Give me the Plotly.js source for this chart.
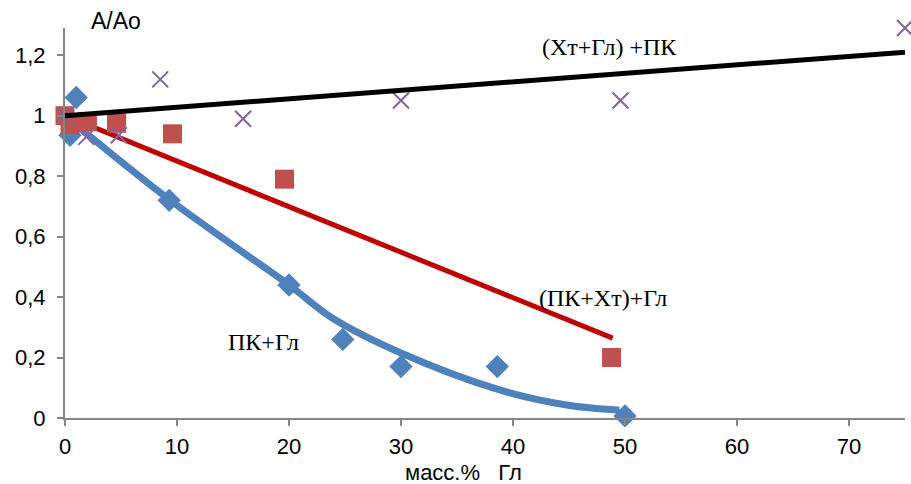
<!DOCTYPE html>
<html>
<head>
<meta charset="utf-8">
<script src="https://cdn.plot.ly/plotly-3.0.1.min.js"></script>
<style>html,body{margin:0;padding:0;background:#fff;}#chart{width:911px;height:484px;}</style>
</head>
<body>
<div id="chart"></div>
<script>
// ПК+Гл (blue diamonds)
const pkGlX = [0.45, 1.0, 9.3, 20, 24.8, 30, 38.6, 50];
const pkGlY = [0.935, 1.06, 0.72, 0.44, 0.26, 0.17, 0.17, 0.007];
// ПК+Гл trend curve
const pkGlTrendX = [0, 9.4, 20, 23.9, 30, 38.8, 44.8, 49.5];
const pkGlTrendY = [1.0, 0.72, 0.44, 0.33, 0.215, 0.093, 0.043, 0.026];
// (ПК+Хт)+Гл (red squares)
const pkXtX = [0, 0.45, 2, 4.6, 9.6, 19.6, 48.8];
const pkXtY = [1.0, 0.97, 0.98, 0.975, 0.94, 0.79, 0.2];
const pkXtTrendX = [0, 48.9];
const pkXtTrendY = [1.0, 0.264];
// (Хт+Гл)+ПК (purple crosses)
const xtGlX = [0, 1.9, 4.8, 8.5, 15.9, 30, 49.6, 75];
const xtGlY = [1.0, 0.93, 0.935, 1.12, 0.99, 1.05, 1.05, 1.29];
const xtGlTrendX = [0, 75];
const xtGlTrendY = [1.0, 1.21];
// ticks
const yTickVals = [0, 0.2, 0.4, 0.6, 0.8, 1, 1.2];
const yTickText = ["0", "0,2", "0,4", "0,6", "0,8", "1", "1,2"];
const xTickVals = [0, 10, 20, 30, 40, 50, 60, 70];
const xTickText = ["0", "10", "20", "30", "40", "50", "60", "70"];

const traces = [
  {x: pkGlTrendX, y: pkGlTrendY, mode: 'lines', line: {color: '#4F81BD', width: 7, shape: 'spline', smoothing: 1}, hoverinfo: 'skip'},
  {x: pkXtTrendX, y: pkXtTrendY, mode: 'lines', line: {color: '#C00000', width: 5}, hoverinfo: 'skip'},
  {x: pkGlX, y: pkGlY, mode: 'markers', marker: {symbol: 'diamond', size: 18, color: '#4F81BD'}, cliponaxis: false},
  {x: pkXtX, y: pkXtY, mode: 'markers', marker: {symbol: 'square', size: 19, color: '#C0504D'}, cliponaxis: false},
  {x: xtGlX, y: xtGlY, mode: 'markers', marker: {symbol: 'x-thin', size: 16, color: '#8064A2', line: {color: '#8064A2', width: 2}}, cliponaxis: false},
  {x: xtGlTrendX, y: xtGlTrendY, mode: 'lines', line: {color: '#000000', width: 5}, hoverinfo: 'skip'}
];

const serif = {family: 'Liberation Serif, Times New Roman, serif', size: 24, color: '#000'};
const layout = {
  width: 911, height: 484,
  margin: {l: 65, r: 6, t: 28, b: 66},
  paper_bgcolor: '#fff', plot_bgcolor: '#fff',
  showlegend: false,
  font: {family: 'Liberation Sans, Arial, sans-serif', size: 22, color: '#000'},
  xaxis: {
    range: [0, 75], tickvals: xTickVals, ticktext: xTickText,
    showgrid: false, zeroline: false, showline: true, linecolor: '#868686', linewidth: 2,
    ticks: 'outside', ticklen: 6, tickcolor: '#868686', tickwidth: 2,
    tickfont: {size: 22}, ticklabelstandoff: 2
  },
  yaxis: {
    range: [0, 1.29], tickvals: yTickVals, ticktext: yTickText,
    showgrid: false, zeroline: false, showline: true, linecolor: '#868686', linewidth: 2,
    ticks: 'outside', ticklen: 6, tickcolor: '#868686', tickwidth: 2,
    tickfont: {size: 22}, ticklabelstandoff: 7
  },
  annotations: [
    {xref: 'paper', yref: 'paper', x: (116 - 65) / 840, y: (418 - 21) / 390, xanchor: 'center', yanchor: 'middle', text: 'A/Ao', showarrow: false, font: {size: 23}},
    {xref: 'paper', yref: 'paper', x: (463 - 65) / 840, y: (418 - 472) / 390, xanchor: 'center', yanchor: 'middle', text: 'масс.%\u00a0\u00a0\u00a0Гл', showarrow: false, font: {size: 22}},
    {xref: 'x', yref: 'y', x: 48.6, y: 1.226, text: '(Хт+Гл) +ПК', showarrow: false, font: serif},
    {xref: 'x', yref: 'y', x: 48.0, y: 0.397, text: '(ПК+Хт)+Гл', showarrow: false, font: serif},
    {xref: 'x', yref: 'y', x: 17.7, y: 0.251, text: 'ПК+Гл', showarrow: false, font: serif}
  ]
};
Plotly.newPlot('chart', traces, layout, {staticPlot: true});
</script>
</body>
</html>
